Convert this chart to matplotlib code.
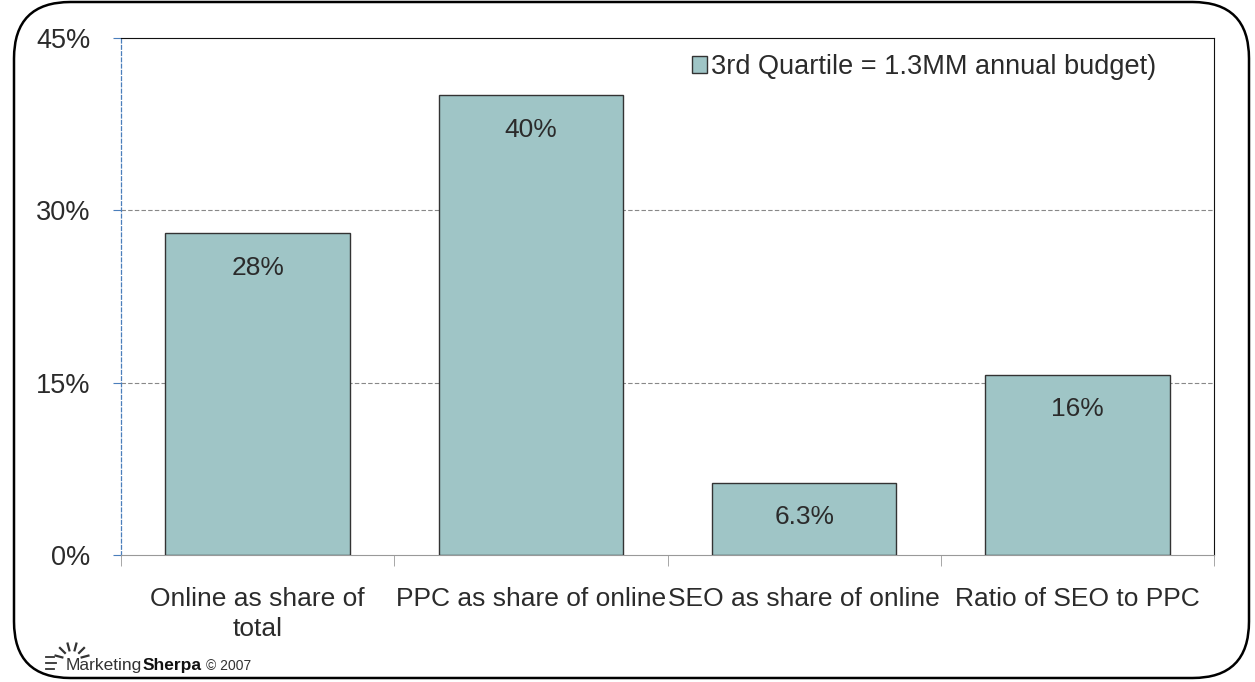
import matplotlib
matplotlib.use("Agg")
import matplotlib.pyplot as plt
from matplotlib.patches import FancyBboxPatch, Patch, Arc
import numpy as np

categories = ["Online as share of\ntotal", "PPC as share of online", "SEO as share of online", "Ratio of SEO to PPC"]
values = [28, 40, 6.3, 15.7]
value_labels = ["28%", "40%", "6.3%", "16%"]
y_ticks = [0, 15, 30, 45]
y_tick_labels = ["0%", "15%", "30%", "45%"]
series_name = "3rd Quartile = 1.3MM annual budget)"

plt.rcParams['font.family'] = ['Liberation Sans', 'DejaVu Sans']
TXT = "#2b2b2b"
W, H = 1255, 682
fig = plt.figure(figsize=(W/100, H/100), dpi=100)

frame = FancyBboxPatch((14/W, 4/H), (1249-14)/W, (680-4)/H,
                       boxstyle="round,pad=0,rounding_size=0.045",
                       transform=fig.transFigure, fill=False, ec="black", lw=1.8,
                       mutation_aspect=W/H)
fig.patches.append(frame)

left, right, top, bottom = 121, 1214, 38, 555
ax = fig.add_axes([left/W, 1-bottom/H, (right-left)/W, (bottom-top)/H])
x = list(range(len(categories)))
ax.bar(x, values, width=0.675, color="#9fc5c6", edgecolor="#333333", linewidth=1.0, zorder=3)
ax.set_xlim(-0.5, len(categories)-0.5)
ax.set_ylim(0, 45)
ax.set_yticks(y_ticks)
ax.set_yticklabels(y_tick_labels, fontsize=19.5, color=TXT)
ax.set_xticks(x)
ax.set_xticklabels(categories, fontsize=19, color=TXT, linespacing=1.3)
ax.tick_params(axis="x", length=0, pad=23)
ax.tick_params(axis="y", length=6, color="#4a7ebb", direction="out", pad=16)
ax.set_xticks([i - 0.5 for i in range(len(categories)+1)], minor=True)
ax.tick_params(axis="x", which="minor", length=8, color="#999999", direction="out")
for yv in y_ticks[1:-1]:
    ax.axhline(yv, color="#888888", lw=0.8, ls=(0, (4, 2)), zorder=1)
ax.spines["left"].set_color("#4a7ebb")
ax.spines["left"].set_linestyle((0, (3, 2)))
ax.spines["left"].set_linewidth(0.9)
ax.spines["bottom"].set_color("#999999")
ax.spines["top"].set_color("#111111")
ax.spines["right"].set_color("#111111")

for xi, v, lab in zip(x, values, value_labels):
    ax.annotate(lab, (xi, v), xytext=(0, -16), textcoords="offset points",
                ha="center", va="top", fontsize=19, color=TXT)

leg = ax.legend(handles=[Patch(facecolor="#9fc5c6", edgecolor="#333333", label=series_name)],
                loc="upper left", bbox_to_anchor=((692-left)/(right-left), 1-(54-top)/(bottom-top)),
                frameon=False, fontsize=19.5, handlelength=0.55, handleheight=0.55, handletextpad=0.15,
                borderaxespad=0, borderpad=0)
for t in leg.get_texts():
    t.set_color(TXT)

# footer logo
fig.canvas.draw()
r = fig.canvas.get_renderer()
base_y = 1 - 670/H
t1 = fig.text(66/W, base_y, "Marketing", fontsize=12.5, color="#333333", va="baseline", ha="left")
bb = t1.get_window_extent(r)
t2 = fig.text(bb.x1/W, base_y, "Sherpa", fontsize=12.5, color="#111111", va="baseline", ha="left", fontweight="bold")
bb2 = t2.get_window_extent(r)
fig.text(bb2.x1/W + 5/W, base_y, "\u00a9 2007", fontsize=10, color="#333333", va="baseline", ha="left")
# sun glyph
cx, cy = 72, H - 660
for ang in np.linspace(15, 165, 6):
    a = np.deg2rad(ang)
    fig.add_artist(plt.Line2D([(cx + 10*np.cos(a))/W, (cx + 17*np.cos(a))/W],
                              [(cy + 10*np.sin(a))/H, (cy + 17*np.sin(a))/H],
                              transform=fig.transFigure, color="#333333", lw=1.6))
for dy, ln in ((3, 8), (-3, 10), (-9, 8)):
    fig.add_artist(plt.Line2D([(cx - 26)/W, (cx - 26 + ln)/W], [(cy + dy)/H, (cy + dy)/H],
                              transform=fig.transFigure, color="#333333", lw=1.3))

fig.savefig("out.png", dpi=100)
